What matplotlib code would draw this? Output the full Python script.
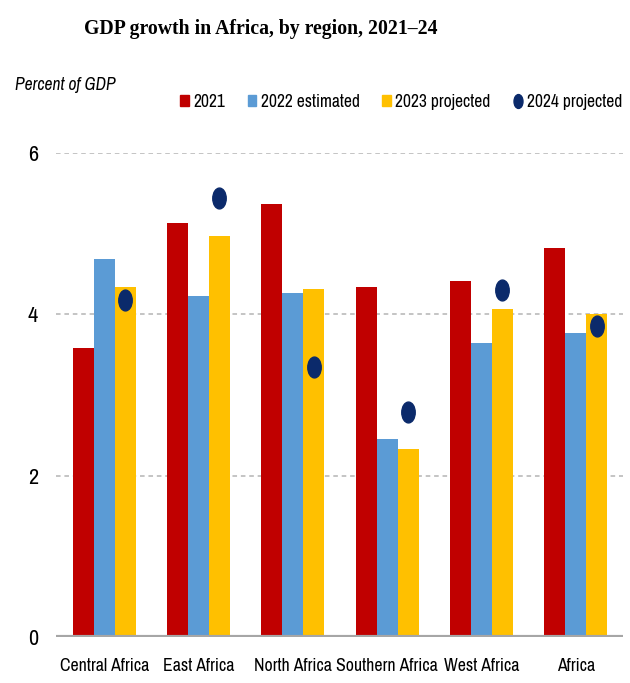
import numpy as np
import matplotlib
matplotlib.use('Agg')
import matplotlib.pyplot as plt
from matplotlib import font_manager
from matplotlib.path import Path
from matplotlib.lines import Line2D
from matplotlib.patches import Patch

regions = ['Central Africa', 'East Africa', 'North Africa', 'Southern Africa', 'West Africa', 'Africa']
g2021 = [3.58, 5.13, 5.36, 4.34, 4.41, 4.82]
g2022 = [4.68, 4.23, 4.26, 2.45, 3.64, 3.77]
g2023 = [4.34, 4.97, 4.31, 2.33, 4.06, 4.00]
g2024 = [4.17, 5.44, 3.35, 2.79, 4.30, 3.85]
yticks = [0, 2, 4, 6]

RED = '#C00000'
BLUE = '#5B9BD5'
GOLD = '#FFC000'
NAVY = '#0B2A6B'

# look for a condensed sans face, the original uses one
names = sorted({f.name for f in font_manager.fontManager.ttflist})
cond = [n for n in names if 'Narrow' in n or 'Condensed' in n]
narrow = cond[:1] + ['Liberation Sans', 'DejaVu Sans']
scale = 1.0 if cond else 0.85

fig = plt.figure(figsize=(6.3, 6.83), dpi=100)
ax = fig.add_axes([0.089, 0.0674, 0.9, 0.709])

x = np.arange(len(regions))
w = 0.222
ax.bar(x - w, g2021, w, color=RED, zorder=3)
ax.bar(x, g2022, w, color=BLUE, zorder=3)
ax.bar(x + w, g2023, w, color=GOLD, zorder=3)

# slightly tall dots, like the stretched original
circ = Path.unit_circle()
ell = Path(circ.vertices * np.array([1.0, 1.55]), circ.codes)
ax.plot(x + w, g2024, linestyle='none', marker=ell, markersize=15,
        color=NAVY, zorder=4)

ax.set_xlim(-0.51, 5.5)
ax.set_ylim(0, 6)
ax.set_yticks(yticks)
ax.set_yticklabels([str(t) for t in yticks], family=narrow, fontsize=16 * scale)
ax.set_xticks(x)
ax.set_xticklabels(regions, family=narrow, fontsize=12.8 * scale)
ax.tick_params(length=0)
ax.tick_params(axis='x', pad=15)
ax.tick_params(axis='y', pad=13)

for t in yticks[1:]:
    ax.axhline(t, color='#B4B4B4', linestyle=(0, (3, 2.5)), linewidth=1.1, zorder=1)
ax.axhline(0, color='#A6A6A6', linewidth=3, zorder=5)

for s in ax.spines.values():
    s.set_visible(False)

fig.text(0.134, 0.957, 'GDP growth in Africa, by region, 2021\u201324',
         family=['Liberation Serif', 'DejaVu Serif'], fontweight='bold', fontsize=14.2,
         va='center')
fig.text(0.024, 0.876, 'Percent of GDP', family=narrow, style='italic',
         fontsize=12.6 * scale, va='center')

handles = [Patch(color=RED, label='2021'),
           Patch(color=BLUE, label='2022 estimated'),
           Patch(color=GOLD, label='2023 projected'),
           Line2D([], [], linestyle='none', marker=ell, markersize=10, color=NAVY,
                  label='2024 projected')]
fig.legend(handles=handles, loc='center right', bbox_to_anchor=(1.012, 0.851),
           ncol=4, frameon=False, handlelength=0.5, handleheight=0.6,
           handletextpad=0.25, columnspacing=1.3,
           prop={'family': narrow, 'size': 12.6 * scale})

fig.savefig('out.png', dpi=100)
